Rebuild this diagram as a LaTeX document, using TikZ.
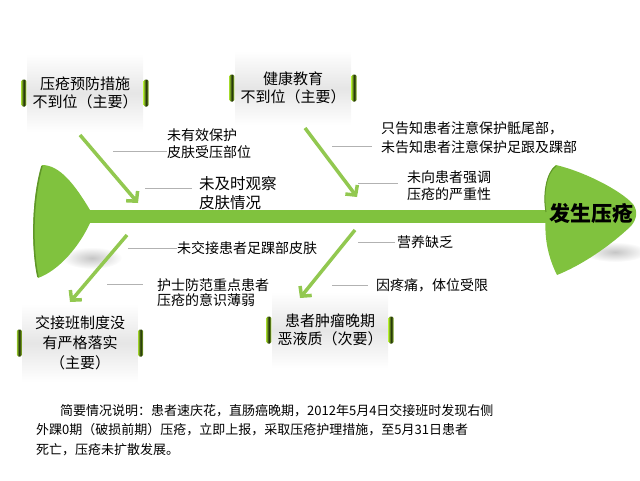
\documentclass[tikz,border=0pt]{standalone}
\usepackage{fontspec}
\setmainfont{Noto Sans CJK SC}
\usetikzlibrary{arrows.meta}
\definecolor{fishgreen}{RGB}{128,194,62}
\definecolor{fishrim}{RGB}{95,150,40}
\definecolor{arrowgreen}{RGB}{146,200,80}
\definecolor{barlight}{RGB}{150,200,40}
\definecolor{bardark}{RGB}{30,45,10}
\tikzset{
  causebox/.style={minimum width=116pt, minimum height=78pt, inner sep=0pt, align=center,
    top color=white, bottom color=white, middle color=gray!20,
    font=\fontsize{15}{18}\selectfont},
  sidebar/.style={left color=barlight, right color=barlight, middle color=bardark, rounded corners=1.5pt},
  cause/.style={-{Straight Barb[length=7pt,width=15pt]}, line width=3.5pt, arrowgreen},
  gline/.style={gray!60, line width=1pt},
  lbl/.style={anchor=west, inner sep=0pt, align=left, font=\fontsize{14}{17}\selectfont}
}
\begin{document}
\begin{tikzpicture}[x=1pt,y=-1pt]
\useasboundingbox (0,0) rectangle (640,480);
% shadows
\shade[inner color=gray!45, outer color=white] (92,258) ellipse (30 and 11);
\shade[inner color=gray!45, outer color=white] (615,252) ellipse (32 and 10);
% fish tail, spine, head
\fill[fishgreen] (42,165) .. controls (31,200) and (31,250) .. (38,278)
  .. controls (60,270) and (80,245) .. (90,223) -- (90,210)
  .. controls (75,185) and (60,165) .. (42,165) -- cycle;
\draw[fishrim, line width=1.5pt] (42,166) .. controls (32,200) and (32,250) .. (38,277);
\fill[fishgreen] (88,210) rectangle (552,223);
\fill[fishgreen] (546,215) .. controls (543,195) and (546,172) .. (556,165)
  .. controls (585,172) and (620,190) .. (633,204)
  .. controls (638,211) and (637,219) .. (631,226)
  .. controls (610,246) and (582,265) .. (557,275)
  .. controls (547,255) and (544,235) .. (546,215) -- cycle;
\draw[fishrim, line width=1pt] (556,166) .. controls (546,173) and (543,195) .. (546,212);
\node[font=\fontsize{21}{24}\selectfont\bfseries] (effect) at (591,214) {发生压疮};
% main causes
\node[causebox] (b1) at (85,93) {压疮预防措施\\不到位（主要）};
\node[causebox, minimum height=74pt] (b2) at (293,88) {健康教育\\不到位（主要）};
\node[causebox, minimum width=115pt, font=\fontsize{15}{20}\selectfont] (b3) at (80,343) {交接班制度没\\有严格落实\\（主要）};
\node[causebox, minimum height=76pt, font=\fontsize{15}{17.5}\selectfont] (b4) at (330,330) {患者肿瘤晚期\\恶液质（次要）};
\foreach \b in {b1,b2,b3,b4}{
  \shade[sidebar] ([xshift=-5.5pt,yshift=-13.5pt]\b.west) rectangle ([xshift=-0.5pt,yshift=13.5pt]\b.west);
  \shade[sidebar] ([xshift=0.5pt,yshift=-13.5pt]\b.east) rectangle ([xshift=5.5pt,yshift=13.5pt]\b.east);
}
% arrows to the spine
\coordinate (a1s) at (80,135);  \coordinate (a1e) at (138,203);
\coordinate (a2s) at (305,128); \coordinate (a2e) at (357,197);
\coordinate (a3s) at (127,235); \coordinate (a3e) at (70,302);
\coordinate (a4s) at (355,230); \coordinate (a4e) at (300,298);
\draw[cause] (a1s) -- (a1e);
\draw[cause] (a2s) -- (a2e);
\draw[cause] (a3s) -- (a3e);
\draw[cause] (a4s) -- (a4e);
% sub causes
\node[lbl] (l1) at (167,143.5) {未有效保护\\皮肤受压部位};
\node[lbl, font=\fontsize{15.5}{19}\selectfont] (l2) at (199,193.5) {未及时观察\\皮肤情况};
\node[lbl, font=\fontsize{14}{19}\selectfont] (l3) at (381,137.5) {只告知患者注意保护骶尾部，\\未告知患者注意保护足跟及踝部};
\node[lbl] (l4) at (407,185.5) {未向患者强调\\压疮的严重性};
\node[lbl] (l5) at (177,248) {未交接患者足踝部皮肤};
\node[lbl, font=\fontsize{14}{15.5}\selectfont] (l6) at (157,292.5) {护士防范重点患者\\压疮的意识薄弱};
\node[lbl] (l7) at (397,242) {营养缺乏};
\node[lbl] (l8) at (376,285) {因疼痛，体位受限};
\coordinate (g1) at (113,151);
\coordinate (g2) at (145,188);
\coordinate (g3) at (332,146);
\coordinate (g4) at (358,183);
\coordinate (g5) at (128,248);
\coordinate (g6) at (107,284);
\coordinate (g7) at (358,242);
\coordinate (g8) at (332,285);
\draw[gline] (g1) -- (g1 -| l1.west);
\draw[gline] (g2) -- ([xshift=-7pt]g2 -| l2.west);
\draw[gline] (g3) -- ([xshift=-9pt]g3 -| l3.west);
\draw[gline] (g4) -- ([xshift=-9pt]g4 -| l4.west);
\draw[gline] (g5) -- (g5 -| l5.west);
\draw[gline] (g6) -- ([xshift=-14pt]g6 -| l6.west);
\draw[gline] (g7) -- ([xshift=-2pt]g7 -| l7.west);
\draw[gline] (g8) -- ([xshift=-8pt]g8 -| l8.west);
% note
\node[anchor=north west, inner sep=0pt, align=left, font=\fontsize{13}{19.5}\selectfont] (note) at (36,404)
  {\hspace*{24pt}简要情况说明：患者速庆花，直肠癌晚期，2012年5月4日交接班时发现右侧\\
   外踝0期（破损前期）压疮，立即上报，采取压疮护理措施，至5月31日患者\\
   死亡，压疮未扩散发展。};
\end{tikzpicture}
\end{document}
